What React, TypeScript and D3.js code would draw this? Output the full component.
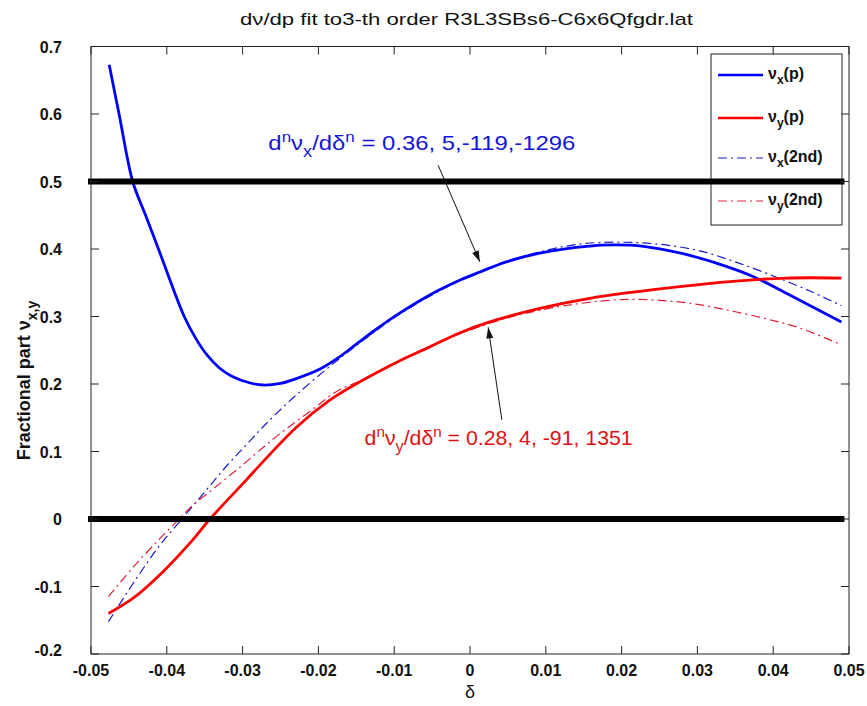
import React from "react";
import * as d3 from "d3";

// ---- data ----
const xTicks = [-0.05, -0.04, -0.03, -0.02, -0.01, 0, 0.01, 0.02, 0.03, 0.04, 0.05];
const xTickLabels = ["-0.05", "-0.04", "-0.03", "-0.02", "-0.01", "0", "0.01", "0.02", "0.03", "0.04", "0.05"];
const yTicks = [-0.2, -0.1, 0, 0.1, 0.2, 0.3, 0.4, 0.5, 0.6, 0.7];
const yTickLabels = ["-0.2", "-0.1", "0", "0.1", "0.2", "0.3", "0.4", "0.5", "0.6", "0.7"];

const nuxP: [number, number][] = [
  [-0.0476, 0.673], [-0.0463, 0.6], [-0.0445, 0.5], [-0.0428, 0.45], [-0.0411, 0.4],
  [-0.0377, 0.3], [-0.0362, 0.268], [-0.0347, 0.243], [-0.0331, 0.224], [-0.0315, 0.212],
  [-0.029, 0.2015], [-0.0273, 0.1985], [-0.025, 0.201], [-0.0229, 0.208], [-0.02, 0.221],
  [-0.0175, 0.238], [-0.015, 0.259], [-0.0125, 0.28], [-0.0097, 0.302], [-0.0053, 0.332],
  [-0.0013, 0.354], [0.0013, 0.366], [0.0048, 0.381], [0.0092, 0.394], [0.0154, 0.404],
  [0.019, 0.406], [0.0229, 0.404], [0.0281, 0.393], [0.0325, 0.379], [0.0374, 0.359],
  [0.0418, 0.334], [0.049, 0.292],
];
const nuyP: [number, number][] = [
  [-0.0477, -0.14], [-0.0444, -0.117], [-0.0405, -0.078], [-0.0369, -0.035], [-0.0343, 0.0],
  [-0.0295, 0.058], [-0.0273, 0.085], [-0.0229, 0.136], [-0.0185, 0.176], [-0.0141, 0.206],
  [-0.0097, 0.232], [-0.0053, 0.255], [-0.0013, 0.276], [0.0026, 0.292], [0.0092, 0.312],
  [0.0158, 0.327], [0.0259, 0.342], [0.0347, 0.352], [0.0418, 0.357], [0.049, 0.357],
];
const nux2nd: [number, number][] = [
  [-0.0477, -0.152], [-0.044, -0.088], [-0.041, -0.04], [-0.038, 0.0], [-0.035, 0.04],
  [-0.032, 0.08], [-0.0295, 0.11], [-0.027, 0.14], [-0.023, 0.183], [-0.0185, 0.226],
  [-0.015, 0.257], [-0.01, 0.298], [-0.005, 0.332], [0, 0.36], [0.005, 0.382], [0.01, 0.398],
  [0.015, 0.408], [0.02, 0.41], [0.025, 0.407], [0.03, 0.398], [0.035, 0.381], [0.04, 0.36],
  [0.045, 0.337], [0.049, 0.316],
];
const nuy2nd: [number, number][] = [
  [-0.0477, -0.115], [-0.0444, -0.071], [-0.041, -0.03], [-0.0387, -0.004], [-0.0369, 0.017],
  [-0.0334, 0.049], [-0.03, 0.08], [-0.0275, 0.104], [-0.025, 0.127], [-0.0207, 0.163],
  [-0.0176, 0.189], [-0.014, 0.207], [-0.01, 0.231], [-0.005, 0.257], [0, 0.28], [0.005, 0.298],
  [0.01, 0.311], [0.015, 0.32], [0.02, 0.325], [0.025, 0.324], [0.03, 0.318], [0.035, 0.307],
  [0.04, 0.294], [0.0435, 0.283], [0.049, 0.258],
];
const refLevels = [0, 0.5];
const refRange = [-0.05, 0.049];

const BLUE = "#0000ff";
const RED = "#ff0000";
const FONT = "'Liberation Sans', Arial, Helvetica, sans-serif";

export default function App() {
  const W = 867, H = 706;
  const x = d3.scaleLinear().domain([-0.05, 0.05]).range([91, 849]);
  const y = d3.scaleLinear().domain([-0.2, 0.7]).range([654, 46.5]);
  const line = d3
    .line<[number, number]>()
    .x((d) => x(d[0]))
    .y((d) => y(d[1]))
    .curve(d3.curveCatmullRom.alpha(0.5));

  const x0 = x.range()[0], x1 = x.range()[1];
  const yT = y.range()[1], yB = y.range()[0];
  const tl = 8;
  const dash = "9,4,2,4";

  // legend
  const lg = { x: 711, y: 54, w: 131, h: 171 };
  const legendItems = [
    { c: BLUE, sub: "x", s: "(p)", dash: null, w: 2.6, dy: 21 },
    { c: RED, sub: "y", s: "(p)", dash: null, w: 2.6, dy: 64 },
    { c: "#1a1acc", sub: "x", s: "(2nd)", dash: "9,4,2,4", w: 1.2, dy: 104 },
    { c: "#e0203a", sub: "y", s: "(2nd)", dash: "9,4,2,4", w: 1.2, dy: 147 },
  ];

  const arrowHead = (tx: number, ty: number, fx: number, fy: number) => {
    const a = Math.atan2(ty - fy, tx - fx);
    const L = 11, Wd = 3.5;
    const bx = tx - L * Math.cos(a), by = ty - L * Math.sin(a);
    const px = -Math.sin(a) * Wd, py = Math.cos(a) * Wd;
    return `M${tx},${ty}L${bx + px},${by + py}L${bx - px},${by - py}Z`;
  };

  const arrows = [
    { from: [-0.0042, 0.524], to: [0.0013, 0.381] },
    { from: [0.0042, 0.147], to: [0.0024, 0.284] },
  ];

  return (
    <svg
      width={W}
      height={H}
      style={{ position: "absolute", left: 0, top: 0, background: "#fff" }}
      fontFamily={FONT}
    >
      <rect x={0} y={0} width={W} height={H} fill="#fff" />

      {/* curves */}
      <path d={line(nux2nd) || ""} fill="none" stroke="#1a1acc" strokeWidth={1.2} strokeDasharray={dash} />
      <path d={line(nuy2nd) || ""} fill="none" stroke="#e0203a" strokeWidth={1.2} strokeDasharray={dash} />
      <path d={line(nuxP) || ""} fill="none" stroke={BLUE} strokeWidth={2.8} />
      <path d={line(nuyP) || ""} fill="none" stroke={RED} strokeWidth={2.8} />

      {/* legend */}
      <rect x={lg.x} y={lg.y} width={lg.w} height={lg.h} fill="#fff" stroke="#222" strokeWidth={1} />
      {legendItems.map((it, i) => (
        <g key={i}>
          <line
            x1={lg.x + 7}
            x2={lg.x + 52}
            y1={lg.y + it.dy}
            y2={lg.y + it.dy}
            stroke={it.c}
            strokeWidth={it.w}
            strokeDasharray={it.dash || undefined}
          />
          <text x={lg.x + 57} y={lg.y + it.dy + 4} fontSize={16} fontWeight="bold" fill="#111">
            ν<tspan fontSize={12} dy={5}>{it.sub}</tspan>
            <tspan dy={-5}>{it.s}</tspan>
          </text>
        </g>
      ))}

      {/* thick reference lines */}
      {refLevels.map((v) => (
        <line
          key={v}
          x1={x(refRange[0]) - 3}
          x2={x(refRange[1]) + 3}
          y1={y(v)}
          y2={y(v)}
          stroke="#000"
          strokeWidth={6}
        />
      ))}

      {/* axes frame */}
      <rect x={x0} y={yT} width={x1 - x0} height={yB - yT} fill="none" stroke="#222" strokeWidth={1} />
      {xTicks.map((t, i) => (
        <g key={"xt" + i}>
          <line x1={x(t)} x2={x(t)} y1={yB} y2={yB - tl} stroke="#222" />
          <line x1={x(t)} x2={x(t)} y1={yT} y2={yT + tl} stroke="#222" />
          <text x={x(t)} y={676} textAnchor="middle" fontSize={16} fontWeight="bold" fill="#111">
            {xTickLabels[i]}
          </text>
        </g>
      ))}
      {yTicks.map((t, i) => (
        <g key={"yt" + i}>
          <line x1={x0} x2={x0 + tl} y1={y(t)} y2={y(t)} stroke="#222" />
          <line x1={x1} x2={x1 - tl} y1={y(t)} y2={y(t)} stroke="#222" />
          <text
            x={x0 - 29}
            y={y(t) + 6 - (i === 0 ? 4 : 0)}
            textAnchor="end"
            fontSize={16}
            fontWeight="bold"
            fill="#111"
          >
            {yTickLabels[i]}
          </text>
        </g>
      ))}

      {/* title */}
      <text x={240} y={25} fontSize={17} textLength={453} lengthAdjust="spacingAndGlyphs" fill="#111">
        dν/dp fit to3-th order R3L3SBs6-C6x6Qfgdr.lat
      </text>

      {/* x label */}
      <text x={x(0)} y={698} textAnchor="middle" fontSize={18} fill="#111">
        δ
      </text>

      {/* y label */}
      <text
        transform={`translate(30,${(yT + yB) / 2 + 110}) rotate(-90)`}
        fontSize={18}
        fontWeight="bold"
        fill="#111"
      >
        Fractional part ν<tspan fontSize={14} dy={7}>x,y</tspan>
      </text>

      {/* annotations */}
      <text x={x(-0.0266)} y={y(0.547)} fontSize={21} fill="#1414d8" textLength={307} lengthAdjust="spacingAndGlyphs">
        d<tspan fontSize={15} dy={-8}>n</tspan>
        <tspan dy={8}>ν</tspan>
        <tspan fontSize={16} dy={7}>x</tspan>
        <tspan dy={-7}>/dδ</tspan>
        <tspan fontSize={15} dy={-8}>n</tspan>
        <tspan dy={8}> = 0.36, 5,-119,-1296</tspan>
      </text>
      <text x={x(-0.0139)} y={y(0.11)} fontSize={21} fill="#e01010" textLength={268} lengthAdjust="spacingAndGlyphs">
        d<tspan fontSize={15} dy={-8}>n</tspan>
        <tspan dy={8}>ν</tspan>
        <tspan fontSize={16} dy={7}>y</tspan>
        <tspan dy={-7}>/dδ</tspan>
        <tspan fontSize={15} dy={-8}>n</tspan>
        <tspan dy={8}> = 0.28, 4, -91, 1351</tspan>
      </text>

      {/* arrows */}
      {arrows.map((a, i) => {
        const fx = x(a.from[0]), fy = y(a.from[1]);
        const tx = x(a.to[0]), ty = y(a.to[1]);
        return (
          <g key={"ar" + i}>
            <line x1={fx} y1={fy} x2={tx} y2={ty} stroke="#111" strokeWidth={1} />
            <path d={arrowHead(tx, ty, fx, fy)} fill="#111" />
          </g>
        );
      })}
    </svg>
  );
}
